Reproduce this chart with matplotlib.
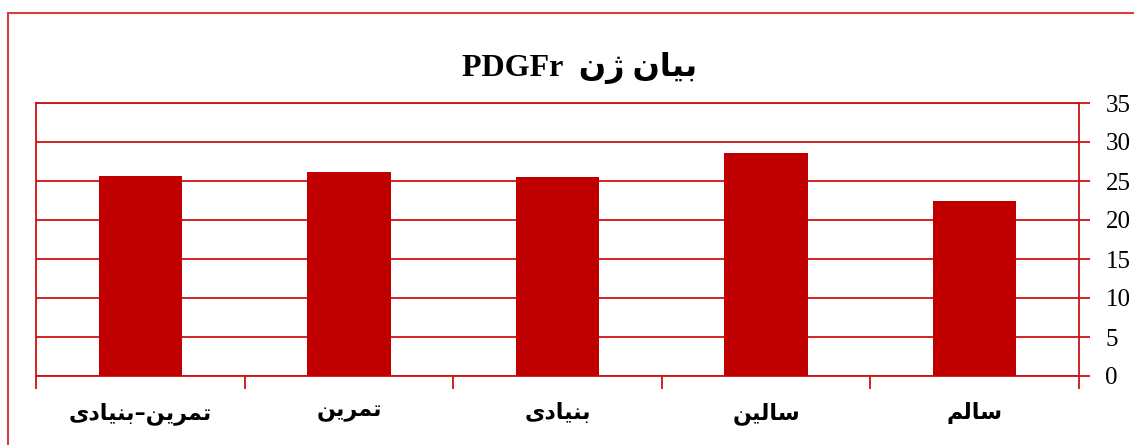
import numpy as np
import matplotlib.pyplot as plt
from matplotlib.patches import Rectangle

# data (logical order, right to left on the chart)
groups = ['سالم', 'سالین', 'بنیادی', 'تمرین', 'تمرین–بنیادی']
values = [22.4, 28.6, 25.5, 26.2, 25.6]
title_fa = 'بیان ژن'
title_en = 'PDGFr'

# small persian shaper: letter -> (isolated, final, initial, medial)
forms = {
    'ا': ('\uFE8D', '\uFE8E', None, None),
    'ب': ('\uFE8F', '\uFE90', '\uFE91', '\uFE92'),
    'ت': ('\uFE95', '\uFE96', '\uFE97', '\uFE98'),
    'د': ('\uFEA9', '\uFEAA', None, None),
    'ر': ('\uFEAD', '\uFEAE', None, None),
    'ژ': ('\uFB8A', '\uFB8B', None, None),
    'س': ('\uFEB1', '\uFEB2', '\uFEB3', '\uFEB4'),
    'ل': ('\uFEDD', '\uFEDE', '\uFEDF', '\uFEE0'),
    'م': ('\uFEE1', '\uFEE2', '\uFEE3', '\uFEE4'),
    'ن': ('\uFEE5', '\uFEE6', '\uFEE7', '\uFEE8'),
    'ی': ('\uFBFC', '\uFBFD', '\uFBFE', '\uFBFF'),
}

def shape(s):
    out = []
    for i, c in enumerate(s):
        if c not in forms:
            out.append(c)
            continue
        prev = s[i-1] if i > 0 else ''
        nxt = s[i+1] if i < len(s)-1 else ''
        jp = prev in forms and forms[prev][2] is not None
        jn = nxt in forms and forms[c][2] is not None
        iso, fin, ini, med = forms[c]
        if jp and jn:
            out.append(med)
        elif jp:
            out.append(fin)
        elif jn:
            out.append(ini)
        else:
            out.append(iso)
    return ''.join(out)[::-1]

red = '#c00000'
line = '#d01010'

fig = plt.figure(figsize=(11.34, 4.45), dpi=100)
ax = fig.add_axes([36/1134, 1-376/445, (1079-36)/1134, 273/445])

x = np.arange(len(groups))
ax.bar(x, values, width=0.4, color=red, zorder=3)
ax.set_xlim(-0.5, len(groups)-0.5)
ax.invert_xaxis()
ax.set_ylim(0, 35)
ax.set_yticks(np.arange(0, 36, 5))
ax.yaxis.tick_right()
ax.grid(axis='y', color=line, linewidth=1.3, zorder=1)
for s in ax.spines.values():
    s.set_color(line)
    s.set_linewidth(1.3)

ax.tick_params(axis='y', direction='out', length=8, width=1.3, color=line, pad=11, labelsize=18)
for t in ax.get_yticklabels():
    t.set_fontfamily('Liberation Serif')

ax.set_xticks(x)
ax.set_xticklabels([shape(g) for g in groups], fontsize=16, fontweight='bold', family='DejaVu Sans')
ax.tick_params(axis='x', which='major', length=0, pad=19)
ax.set_xticks(np.arange(-0.5, len(groups), 1), minor=True)
ax.tick_params(axis='x', which='minor', direction='out', length=9, width=1.3, color=line)

fig.text(0.511, 0.847, title_en + '  ' + shape(title_fa), ha='center', va='center',
         fontsize=23, fontweight='bold', family=['Liberation Serif', 'DejaVu Sans'])

# outer chart border
fig.patches.append(Rectangle((8/1134, -0.1), 1.2, 1-13/445+0.1, transform=fig.transFigure,
                             fill=False, edgecolor='#d04040', linewidth=1.5))

fig.savefig('out.png', dpi=100)
